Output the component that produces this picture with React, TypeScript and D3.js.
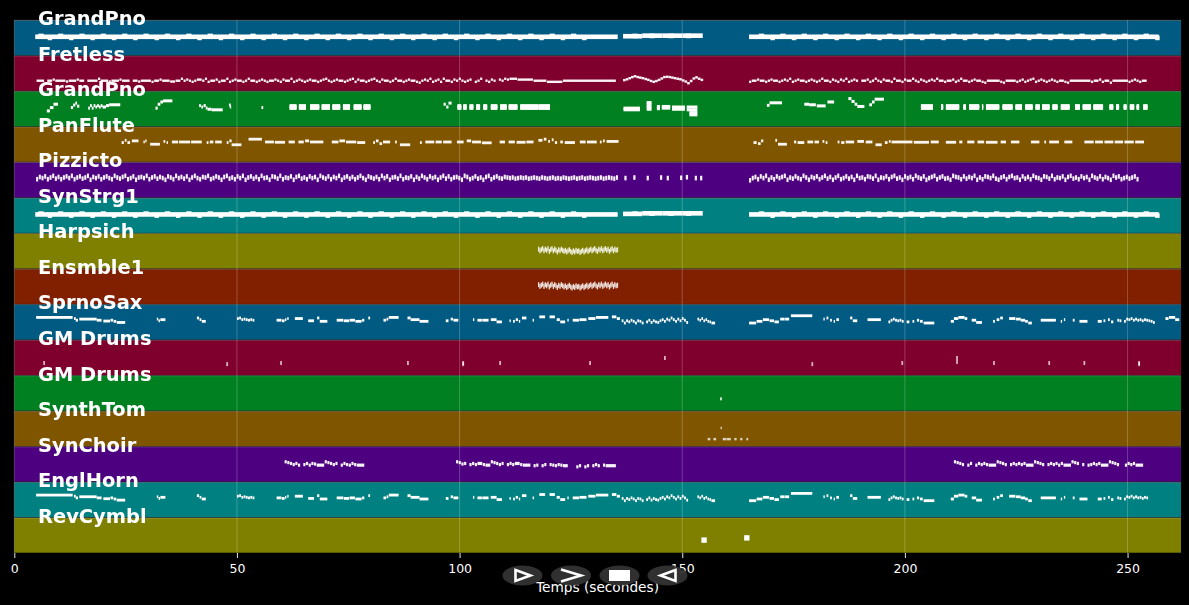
import React, { useLayoutEffect, useRef } from 'react';
import * as d3 from 'd3';

type Note = [number, number, number];

const width = 1189;
const height = 605;

const trackNames = [
  'GrandPno', 'Fretless', 'GrandPno', 'PanFlute', 'Pizzicto',
  'SynStrg1', 'Harpsich', 'Ensmble1', 'SprnoSax', 'GM Drums',
  'GM Drums', 'SynthTom', 'SynChoir', 'EnglHorn', 'RevCymbl',
];
const bandColors = ['#005a82', '#80002d', '#008020', '#805500', '#4d0080', '#008080', '#808000', '#802000'];
const xTicks = [0, 50, 100, 150, 200, 250];
const maxTime = 262;

// rests are written as 0, times are seconds, pitches are midi numbers
const phrase = (start: number, step: number, pitches: number[], merge = true, fill = 0.82): Note[] => {
  const notes: Note[] = [];
  pitches.forEach((p, i) => {
    if (!p) return;
    const t = start + i * step;
    const last = notes[notes.length - 1];
    if (merge && last && last[2] === p && Math.abs(last[1] - t - (1 - fill) * -step) < 0.001) {
      last[1] = t + step * fill;
    } else {
      notes.push([t, t + step * fill, p]);
    }
  });
  return notes;
};

// both piano-like parts (track 1 and track 6) share these
const pianoHeld: Note[] = [
  [4.7, 135.5, 67], [136.7, 141, 69], [141, 145.5, 71], [145.5, 150, 71], [150, 154.6, 71], [165, 257, 67],
];
const pianoDips = [
  8, 12.8, 17.6, 22.4, 27.2, 32, 36.8, 41.6, 46.4, 51.2, 56, 60.8, 65.6, 70.4, 75.2, 80, 84.8, 89.6,
  94.4, 99.2, 104, 108.8, 113.6, 118.4, 123.2, 128, 170.3, 175.1, 179.9, 184.7, 189.5, 194.3, 199.1,
  203.9, 208.7, 213.5, 218.3, 223.1, 227.9, 232.7, 237.5, 242.3, 247.1, 251.9, 256.7,
];
const pianoRipple = [
  139.4, 143.2, 147.5, 151.4, 6, 10.4, 15.2, 20, 24.8, 29.6, 34.4, 39.2, 44, 48.8, 53.6, 58.4, 63.2, 68,
  72.8, 77.6, 82.4, 87.2, 92, 96.8, 101.6, 106.4, 111.2, 116, 120.8, 125.6, 167.8, 172.6, 177.4, 182.2,
  187, 191.8, 196.6, 201.4, 206.2, 211, 215.8, 220.6, 225.4, 230.2, 235, 239.8, 244.6, 249.4, 254.2,
];

const fretlessFirst = [
  37, 37, 37, 0, 37, 37, 41, 37, 37, 37, 37, 34, 37, 37, 37, 41,
  37, 37, 0, 37, 37, 37, 37, 44, 37, 37, 37, 34, 37, 37, 37, 41,
  37, 37, 37, 0, 37, 37, 34, 37, 37, 37, 37, 33, 37, 37, 41, 37,
  37, 37, 34, 34, 37, 37, 44, 37, 41, 37, 33, 37, 41, 41, 37, 44,
  33, 37, 37, 41, 33, 37, 37, 44, 33, 37, 41, 37, 37, 33, 37, 44,
  37, 37, 33, 37, 41, 37, 33, 37, 37, 41, 37, 33, 41, 37, 37, 44,
  33, 37, 41, 37, 33, 37, 41, 37, 37, 33, 37, 41, 44, 37, 33, 37,
  41, 37, 37, 33, 37, 41, 44, 33, 41, 37, 37, 33, 37, 41, 44, 37,
  33, 41, 37, 37, 33, 37, 44, 37, 37, 33, 37, 41, 37, 37, 33, 30,
  37, 41, 37, 44, 33, 37, 41, 33, 44, 37, 37, 33, 41, 37, 44, 37,
  33, 37, 41, 0, 33, 37, 44, 0, 37, 33, 41, 37, 0, 41, 37, 44,
  41, 44, 44, 44, 41, 41, 41, 41, 41, 41, 37, 37, 37, 37, 37, 33,
  33, 33, 33, 33, 33, 37, 37, 37, 37, 37, 37, 37, 37, 37, 37, 37,
  37, 37, 37, 37, 37, 37, 37, 37, 37,
];
const fretlessSwell = [
  39, 42, 46, 50, 53, 50, 48, 46, 43, 40, 36, 33, 36, 40, 45, 50, 51, 50, 48, 46, 44, 42, 38, 34, 28, 36, 45, 49, 44, 40,
];
const fretlessLast = [
  33, 37, 37, 41, 37, 37, 33, 37, 41, 37, 37, 33, 37, 41, 37, 44,
  33, 37, 41, 37, 37, 33, 37, 41, 37, 33, 37, 44, 37, 37, 33, 41,
  37, 33, 41, 37, 44, 33, 37, 41, 37, 0, 37, 37, 41, 33, 37, 44,
  37, 33, 41, 37, 37, 33, 44, 37, 37, 33, 41, 37, 37, 44, 37, 33,
  41, 37, 33, 37, 41, 37, 44, 37, 37, 33, 37, 37, 41, 33, 37, 44,
  37, 37, 33, 37, 41, 37, 37, 33, 30, 37, 37, 37, 37, 37, 33, 30,
  37, 37, 37, 37, 33, 37, 41, 33, 37, 41, 44, 33, 37, 41, 37, 33,
  37, 41, 37, 33, 37, 37, 33, 30, 37, 37, 37, 37, 37, 37, 37, 37,
  33, 37, 37, 41, 33, 37, 37, 30, 37, 37, 37, 37, 37, 37, 33, 37,
  41, 37, 33, 37, 37,
];

const pianoRunsThin: Note[] = [
  [7.3, 8, 56], [8, 8.8, 68], [8.8, 9.8, 80],
  [12.7, 13.2, 68], [13.2, 13.7, 77], [13.7, 14.1, 84], [14.1, 14.6, 73],
  [16.6, 17, 66], [17, 17.4, 75], [17.4, 17.8, 66], [17.8, 18.2, 75], [18.2, 18.6, 70], [18.6, 19, 75],
  [19, 19.4, 70], [19.4, 19.8, 75], [19.8, 20.6, 70], [20.6, 21.3, 75], [21.3, 23.8, 78],
  [31.7, 32.2, 66], [32.2, 32.8, 80], [32.8, 33.4, 88], [33.4, 35.5, 92],
  [41.5, 41.9, 75], [42, 42.4, 70], [42.5, 43, 75], [43, 43.4, 66], [43.4, 44.3, 62], [44.3, 46.8, 60],
  [48.2, 48.6, 77], [48.4, 48.7, 70], [55.5, 55.9, 68],
  [96.4, 96.9, 80], [97, 97.5, 70], [97.5, 98.2, 84],
  [169, 169.6, 76], [169.6, 172.4, 85],
  [177.4, 178.5, 80], [178.5, 180, 78], [180.2, 182.2, 74], [182.6, 184.1, 88],
  [187.3, 188, 100], [188, 188.7, 90], [188.7, 189.3, 80], [189.3, 190.9, 72],
  [192, 192.6, 78], [192.6, 193.2, 88], [193.2, 195.3, 98],
];
const pianoBlocks: [number, number][] = [
  [61.8, 63.4], [63.9, 65.5], [66.4, 68.5], [69, 70.9], [71.4, 73.2], [73.8, 75.4], [76.2, 78], [78.4, 80],
  [99.5, 100.4], [100.8, 101.6], [102.2, 103.1], [103.7, 104.6], [105.3, 106.2], [107, 108.5], [109.1, 110.6],
  [111, 113], [113.6, 117.7], [117.7, 120.3],
  [203.6, 206.3], [208.1, 208.6], [209.2, 212.2], [213.1, 213.7], [214.4, 216.7], [217.3, 217.6], [218.2, 221.2],
  [221.9, 224.2], [224.8, 226.3], [227, 228.7], [229.3, 230.3], [230.8, 232.5], [233.1, 234.3], [235, 237],
  [238.2, 239.3], [239.9, 241.8], [242.3, 244.5], [245.9, 246.8], [247.4, 248.1], [249.1, 249.8], [250.5, 251.5],
  [252, 252.6], [253.5, 254.5],
];
const blockPitches = [65, 70, 75];
const pianoCluster: Note[] = [
  [136.8, 140.5, 66], [136.8, 140.5, 60],
  [142, 143.1, 86], [142, 143.1, 78], [142, 143.1, 70], [142, 143.1, 62],
  [144.3, 145, 72], [144.3, 145, 64],
  [145.4, 147.3, 72], [145.4, 147.3, 66],
  [147.7, 150.6, 70], [147.7, 150.6, 62],
  [151, 153.4, 70], [151, 153.4, 60], [151.6, 153.4, 50], [151.6, 153.4, 42],
];

const panFluteNotes: Note[] = [
  [24.1, 24.6, 70], [24.8, 25.2, 78], [25.4, 26, 70], [26.4, 27.9, 76], [29, 29.3, 72], [29.4, 29.7, 76],
  [30.5, 32.7, 64], [33.5, 33.9, 74], [34.2, 34.5, 70], [35.4, 36.8, 72], [37, 39.5, 72], [39.7, 42.1, 72],
  [43.2, 43.6, 70], [43.9, 44.7, 72], [45.1, 46.6, 72], [47.7, 48.1, 70], [48.3, 48.8, 76], [48.8, 51, 62],
  [52.6, 55.6, 82], [56.3, 58.3, 72], [58.5, 60.8, 71], [61.6, 63, 72], [63.8, 65, 72], [65.3, 66.2, 76],
  [66.4, 69.4, 72], [71.3, 72.8, 72], [73, 74.3, 76], [74.5, 76.8, 72], [77, 78.8, 70],
  [80.6, 81, 70], [81.2, 81.8, 76], [82, 82.6, 66], [82.8, 84.4, 72], [85.5, 85.9, 72],
  [86.6, 88.9, 62], [91.1, 91.5, 70], [92.3, 94.3, 72], [94.6, 96, 72], [96.3, 98.2, 72],
  [99.4, 100.9, 72], [101.6, 102.6, 76], [102.8, 104.8, 72], [105, 107.2, 69],
  [109, 110.2, 72], [111, 112.4, 72], [112.8, 114.8, 71], [115, 116.6, 72],
  [117.7, 118.6, 78], [118.9, 119.5, 82], [119.9, 120.3, 74], [120.7, 121.1, 80], [121.4, 121.9, 70],
  [122.6, 123.2, 72], [123.6, 125.9, 70], [127, 128.3, 72], [128.6, 130.8, 72], [131.5, 131.9, 72], [132.2, 132.6, 76],
  [133, 135.7, 74],
  [166, 166.7, 70], [167, 167.6, 66], [167.7, 168.2, 76], [170.9, 171.3, 78], [171.5, 173.5, 64],
  [175.1, 175.6, 72], [175.9, 177.4, 70], [178.1, 179.4, 72], [179.7, 180.7, 72], [181.5, 181.9, 74], [182.2, 182.6, 70],
  [184.9, 185.3, 72], [185.7, 186.4, 70], [186.7, 188.6, 72], [189.3, 190.8, 74], [191.2, 192.7, 72],
  [193.4, 194.8, 62], [195.5, 196.1, 70], [196.4, 196.8, 74], [197, 201.7, 72], [202, 205.4, 71], [205.8, 207.6, 72],
  [209.2, 211.5, 71], [212.2, 212.9, 72], [214, 215.6, 72], [216.3, 217.8, 72], [218.2, 220.8, 71], [221.5, 222.7, 72],
  [223.8, 225.7, 72], [228.3, 230.2, 72], [231.3, 231.7, 72], [232.4, 234.6, 72], [235.8, 237.6, 72],
  [240.3, 242.4, 72], [242.7, 244.5, 72], [244.8, 246.8, 72], [247.1, 249, 72], [249.3, 251.4, 72], [251.7, 253.7, 72],
];

const pizzFirst = [
  66, 74, 70, 76, 66, 72, 78, 68, 74, 66, 72, 76, 70, 78, 66, 72,
  76, 68, 72, 78, 64, 74, 70, 76, 66, 72, 76, 70, 66, 78, 72, 68,
  74, 78, 66, 70, 76, 64, 72, 74, 70, 78, 66, 72, 76, 68, 74, 70,
  64, 76, 72, 66, 78, 70, 74, 68, 76, 64, 72, 78, 70, 66, 74, 72,
  78, 66, 70, 76, 72, 64, 74, 78, 68, 72, 66, 76, 70, 78, 64, 72,
  76, 68, 74, 66, 78, 70, 72, 64, 76, 74, 68, 78, 66, 72, 70, 76,
  64, 74, 78, 68, 72, 66, 76, 70, 74, 64, 78, 72, 68, 76, 66, 74,
  70, 78, 64, 72, 76, 68, 74, 66, 72, 78, 70, 64, 76, 72, 68, 74,
  66, 78, 70, 76, 64, 72, 74, 68, 78, 66, 72, 70, 76, 64, 74, 68,
  78, 72, 66, 76, 70, 74, 64, 72, 78, 68, 76, 66, 72, 74, 70, 64,
  78, 74, 66, 70, 76, 68, 72, 64, 74, 78, 66, 72, 76, 70, 68, 74,
  72, 70, 72, 68, 70, 72, 70, 72, 68, 70, 72, 70, 68, 72, 70, 68,
  70, 72, 68, 70, 68, 72, 70, 68, 70, 72, 68, 70, 72, 68, 70, 72,
  70, 68, 70, 72, 68, 70, 72, 70, 68, 72,
];
const pizzTicks: Note[] = [
  [137, 137.5, 70], [139, 139.5, 72], [142, 142.5, 70], [145, 145.5, 72], [146.5, 147, 70], [149.5, 150, 71],
  [150.8, 151.3, 73], [152.8, 153.3, 70], [154, 154.5, 70],
];
const pizzLast = [
  62, 70, 74, 66, 76, 70, 78, 64, 72, 66, 76, 70, 74, 78, 64, 72,
  68, 76, 70, 66, 78, 72, 64, 74, 70, 76, 66, 72, 78, 68, 74, 64,
  72, 78, 66, 70, 76, 68, 74, 64, 78, 70, 72, 66, 76, 74, 68, 78,
  64, 72, 70, 76, 66, 74, 78, 68, 72, 64, 76, 70, 74, 66, 78, 72,
  68, 76, 64, 70, 74, 78, 66, 72, 76, 68, 70, 64, 78, 74, 72, 66,
  76, 68, 74, 70, 78, 64, 72, 66, 76, 74, 70, 78, 68, 64, 72, 76,
  66, 74, 78, 70, 72, 64, 76, 68, 74, 66, 78, 72, 70, 64, 76, 74,
  68, 78, 66, 72, 70, 76, 64, 74, 78, 68, 72, 66, 76, 70, 74, 64,
  78, 72, 68, 76, 66, 74, 70, 64, 78, 72, 76, 66, 70, 74, 68, 72,
  76, 66,
];

// Harpsich and Ensmble1 double each other
const ensemblePitches = [
  70, 64, 68, 72, 64, 70, 66, 72, 62, 68, 72, 64, 70, 66, 60, 68, 64, 70, 66, 62,
  66, 60, 64, 68, 62, 58, 64, 60, 66, 62, 64, 58, 62, 66, 60, 64, 68, 62, 66, 70,
  64, 68, 72, 66, 62, 70, 66, 72, 64, 68, 72, 66, 70, 62, 68, 72, 64, 70, 66, 68,
];

// SprnoSax and EnglHorn double each other up to the last few seconds
const melodyNotes: Note[] = [
  [4.9, 13.1, 80], [13.4, 13.8, 76], [13.8, 14.3, 70], [14.6, 18.5, 74], [18.5, 19.6, 70], [20, 21.5, 67],
  [21.6, 22.2, 70], [22.3, 22.9, 66], [23, 24.9, 62],
  ...phrase(32, 0.4, [74, 68, 72, 72, 72]), [41, 41.5, 78], [41.6, 42, 72], [42.1, 43, 66],
  ...phrase(50, 0.5, [76, 78, 72, 74, 72, 70, 72, 70]), [58.9, 60, 70], [60.1, 60.7, 68], [60.8, 61.1, 72], [61.3, 61.6, 76],
  [63, 64.8, 76], [66, 67.3, 68], [68, 68.5, 78], [68.6, 70.3, 66],
  [72.4, 73.9, 70], [74, 75.2, 68], [75.3, 76.5, 70], [76.6, 78, 66], [78.1, 78.6, 70], [79.5, 79.9, 78],
  [82.9, 83.5, 70], [83.6, 84, 74], [84.1, 86.3, 80],
  [88.3, 89, 78], [89, 91, 72], [91, 93, 66],
  [96.9, 97.5, 68], [98, 98.5, 74], [98.6, 99.7, 70],
  [103, 103.3, 72], [104, 105, 70], [105.1, 106.5, 70], [107, 108.3, 72], [108.3, 109.5, 64],
  [111.2, 111.5, 68], [112, 112.4, 66], [112.6, 113.1, 72], [113.3, 113.6, 66], [114, 115, 78], [116.4, 116.7, 70],
  [117.9, 119.2, 82], [120.2, 121.4, 82], [121.8, 122.5, 72], [122.6, 123.7, 64], [124.2, 124.5, 70],
  [125.4, 126.8, 70], [126.9, 128.5, 72], [128.9, 130.5, 76], [130.6, 133.4, 80], [134.2, 135.2, 82], [135.3, 136, 76],
  ...phrase(136.4, 0.5, [68, 60, 68, 64, 70, 66, 60, 68, 66, 60, 0, 64, 70, 62, 68, 64, 62, 68, 72, 66, 74, 70, 78, 72, 66, 74, 68, 76, 70, 62]),
  ...phrase(153.4, 0.45, [74, 70, 76, 68, 72, 66, 64, 60, 60]),
  [165, 166.6, 60], [166.7, 168, 66], [168.1, 169.5, 72], [169.6, 170.6, 68], [170.7, 171.7, 64],
  [172, 173, 74], [173.1, 174, 74], [174.4, 179.2, 86],
  [181.7, 182, 74], [182.4, 182.8, 78], [183.2, 183.6, 70], [184, 184.3, 66], [184.6, 185.2, 72],
  [187.7, 188.2, 78], [188.3, 189.3, 68], [191.6, 194.6, 72],
  ...phrase(196.3, 0.5, [64, 70, 74, 70, 68, 70, 66, 0]), [200.4, 201, 64], [201.7, 202.1, 66], [202.7, 203.2, 70], [203.4, 204, 66], [204.2, 206.6, 60],
  [210.3, 211, 66], [211, 212, 76], [212, 213.4, 80], [213.4, 214, 76], [215, 216, 70], [216, 217.3, 62],
  [219.8, 220.2, 66], [220.6, 221.2, 72], [221.4, 222, 78], [223.4, 224.8, 76], [224.9, 226, 74], [226, 227, 70],
  [227, 227.6, 66], [227.7, 228.5, 60], [230.5, 233.9, 70], [235, 235.3, 66], [235.7, 236, 72], [237.7, 238.1, 70],
  [239.2, 241, 66], [243.3, 244.2, 66], [244.6, 245, 68], [245.6, 246, 72], [246.3, 246.8, 64],
  ...phrase(247.7, 0.5, [70, 68, 0, 66, 74, 72, 76, 70, 74, 70, 72, 68, 72, 70, 68, 66, 62]),
  [258.5, 259.2, 76], [259.3, 260.7, 80], [260.7, 261.6, 72],
];

const drumHits: Note[] = [
  [6.5, 6.9, 44], [47.6, 48, 40], [59.7, 60.1, 44], [88.2, 88.6, 44], [100.6, 101, 44], [100.6, 101, 40],
  [108.9, 109.3, 44], [129.1, 129.5, 44], [145.9, 146.3, 62], [179, 179.4, 40], [199.2, 199.6, 44],
  [211.5, 211.9, 62], [211.5, 211.9, 48], [219.8, 220.2, 44], [232.2, 232.6, 44],
  [240.1, 240.5, 44], [252.4, 252.8, 44], [252.4, 252.8, 40],
];
const drumsSecond: Note[] = [[158.5, 158.9, 43]];
const synthTomNotes: Note[] = [
  [158.6, 158.9, 66], [155.7, 156.3, 26], [157, 157.6, 26], [159.1, 159.9, 26], [160, 160.9, 26],
  [161.7, 162.2, 26], [163, 163.5, 26], [164.4, 164.8, 26],
];
const choirFirst = [
  72, 69, 66, 62, 66, 60, 0, 62, 66, 60, 66, 64, 60, 60, 60, 72, 69, 66, 62, 66, 0, 60, 66, 62, 60, 66, 62, 60, 60, 60,
];
const choirSecond = [
  72, 69, 64, 66, 0, 62, 66, 62, 66, 66, 62, 60, 60, 72, 69, 66, 62, 66, 0, 62, 66, 62, 66, 66, 62, 60, 60, 60,
  0, 58, 60, 0, 58, 62, 0, 62, 60, 58, 62, 60, 58, 58, 0, 0, 0, 54, 58, 0, 54, 58, 0, 58, 62, 58, 0, 60, 58, 58, 58, 58,
];
const choirLast = [
  72, 69, 66, 62, 0, 60, 66, 0, 60, 66, 62, 66, 62, 60, 60, 60, 72, 69, 66, 62, 0, 62, 66, 62, 66, 62, 66, 60, 60, 60,
  72, 69, 66, 62, 0, 62, 66, 62, 66, 60, 66, 60, 60, 60, 72, 69, 66, 0, 62, 0, 60, 62, 66, 62, 66, 60, 60, 60,
  72, 69, 66, 62, 0, 0, 60, 66, 62, 66, 60, 60, 60,
];
const cymbalHits: Note[] = [[154.3, 155.5, 46], [163.9, 165.1, 54]];

const pianoTrack: Note[] = [
  ...pianoHeld,
  ...pianoDips.map((t): Note => [t - 0.5, t + 0.5, 63]),
  ...pianoRipple.map((t): Note => [t - 0.6, t + 0.6, 70]),
];
const fretlessTrack: Note[] = [
  ...phrase(5, 0.6, fretlessFirst),
  ...phrase(136.7, 0.6, fretlessSwell, true, 1),
  ...phrase(165, 0.6, fretlessLast),
];
const secondPianoTrack: Note[] = [
  ...pianoRunsThin,
  ...pianoCluster,
  ...pianoBlocks.flatMap(([a, b]) => blockPitches.map((p): Note => [a, b, p])),
];
const pizzTrack: Note[] = [
  ...phrase(4.9, 0.6, pizzFirst, false, 0.78),
  ...pizzTicks,
  ...phrase(165, 0.6, pizzLast, false, 0.78),
];
const ensembleTrack = phrase(117.6, 0.3, ensemblePitches, false, 1);
const choirTrack: Note[] = [
  ...phrase(60.7, 0.6, choirFirst),
  ...phrase(99.2, 0.6, choirSecond),
  ...phrase(211, 0.6, choirLast),
];

const trackNotes: Note[][] = [
  pianoTrack, fretlessTrack, secondPianoTrack, panFluteNotes, pizzTrack,
  pianoTrack, ensembleTrack, ensembleTrack, melodyNotes, drumHits,
  drumsSecond, synthTomNotes, choirTrack, melodyNotes.filter((n) => n[0] < 254.5), cymbalHits,
];
const noteSizes = [4.6, 2.4, 3, 2.8, 4.6, 4.6, 5, 5, 2.8, 4, 3, 2.4, 3.2, 2.8, 5.4];
const noteAlphas = [1, 0.95, 1, 0.95, 0.95, 1, 0.85, 0.85, 1, 0.7, 0.85, 0.75, 0.95, 1, 1];

const controlShapes = [
  'M-7,-5.5 L8,0 L-7,5.5 Z',
  'M-10,-6 L10,0 L-10,6',
  '',
  'M8,-5.5 L-7,0 L8,5.5 Z',
];
const controlCentres = [522.5, 571, 619.5, 667.5];

const draw = (container: SVGSVGElement) => {
  const svg = d3.select(container);
  svg.selectAll('*').remove();
  svg.append('rect').attr('width', width).attr('height', height).attr('fill', '#000');

  // the reference is a little soft, notes get a very slight blur
  svg
    .append('defs')
    .append('filter')
    .attr('id', 'soft')
    .attr('filterUnits', 'userSpaceOnUse')
    .attr('x', 0)
    .attr('y', 0)
    .attr('width', width)
    .attr('height', height)
    .append('feGaussianBlur')
    .attr('stdDeviation', 0.35);

  const xScale = d3.scaleLinear().domain([0, maxTime]).range([14.3, 1181]);
  const band = d3
    .scaleBand<number>()
    .domain(d3.range(trackNames.length))
    .range([20, 553]);
  const pitchScale = d3.scaleLinear().domain([0, 127]).range([band.bandwidth(), 0]);

  const bands = svg.append('g').classed('bands', true);
  bands
    .selectAll('rect')
    .data(trackNames)
    .join('rect')
    .attr('x', xScale(0))
    .attr('y', (_, i) => band(i)! + 0.5)
    .attr('width', xScale(maxTime) - xScale(0))
    .attr('height', band.bandwidth() - 0.8)
    .attr('fill', (_, i) => bandColors[i % bandColors.length]);
  bands
    .selectAll('line')
    .data(trackNames)
    .join('line')
    .attr('x1', xScale(0))
    .attr('x2', xScale(maxTime))
    .attr('y1', (_, i) => band(i)! + 0.35)
    .attr('y2', (_, i) => band(i)! + 0.35)
    .attr('stroke', '#fff')
    .attr('stroke-opacity', 0.4)
    .attr('stroke-width', 0.7);

  const grid = svg.append('g').classed('grid', true);
  grid
    .selectAll('line')
    .data(xTicks)
    .join('line')
    .attr('x1', (d) => xScale(d))
    .attr('x2', (d) => xScale(d))
    .attr('y1', 20)
    .attr('y2', 553)
    .attr('stroke', '#fff')
    .attr('stroke-opacity', 0.28)
    .attr('stroke-width', 0.8);

  const tracks = svg.append('g').classed('tracks', true).attr('filter', 'url(#soft)');
  trackNotes.forEach((notes, i) => {
    const size = noteSizes[i];
    tracks
      .append('g')
      .classed('track', true)
      .attr('transform', `translate(0,${band(i)})`)
      .selectAll('rect')
      .data(notes)
      .join('rect')
      .attr('x', (d) => xScale(d[0]))
      .attr('width', (d) => xScale(d[1]) - xScale(d[0]))
      .attr('y', (d) => pitchScale(d[2]) - size / 2)
      .attr('height', size)
      .attr('fill', '#fff')
      .attr('fill-opacity', noteAlphas[i]);
  });

  svg
    .append('g')
    .classed('labels', true)
    .selectAll('text')
    .data(trackNames)
    .join('text')
    .attr('x', 38)
    .attr('y', (_, i) => band(i)! + 5.2)
    .attr('fill', '#fff')
    .attr('font-family', 'DejaVu Sans')
    .attr('font-weight', 'bold')
    .attr('font-size', 19.44)
    .text((d) => d);

  const axis = svg
    .append('g')
    .classed('x-axis', true)
    .attr('transform', 'translate(0,553)')
    .call(d3.axisBottom(xScale).tickValues(xTicks).tickSize(5).tickPadding(6).tickFormat(d3.format('d')));
  axis.select('.domain').remove();
  axis.selectAll('line').attr('stroke', '#fff').attr('stroke-width', 0.9);
  axis
    .selectAll('text')
    .attr('fill', '#fff')
    .attr('font-family', 'DejaVu Sans')
    .attr('font-size', 12.5);

  svg
    .append('text')
    .attr('x', 597.5)
    .attr('y', 592)
    .attr('text-anchor', 'middle')
    .attr('fill', '#fff')
    .attr('font-family', 'DejaVu Sans')
    .attr('font-size', 13.7)
    .text('Temps (secondes)');

  const controls = svg
    .append('g')
    .classed('controls', true)
    .selectAll('g')
    .data(controlShapes)
    .join('g')
    .attr('transform', (_, i) => `translate(${controlCentres[i]},575.5)`);
  controls.append('ellipse').attr('rx', 20).attr('ry', 10).attr('fill', '#333').attr('fill-opacity', 0.95);
  controls
    .filter((d) => d !== '')
    .append('path')
    .attr('d', (d) => d)
    .attr('fill', 'none')
    .attr('stroke', '#fff')
    .attr('stroke-width', 2.6);
  controls
    .filter((d) => d === '')
    .append('rect')
    .attr('x', -10.5)
    .attr('y', -5.5)
    .attr('width', 21)
    .attr('height', 11)
    .attr('fill', '#fff');
};

export default function App() {
  const rootEl = useRef<SVGSVGElement>(null);

  useLayoutEffect(() => {
    if (rootEl.current) draw(rootEl.current);
  }, []);

  return (
    <svg
      ref={rootEl}
      width={width}
      height={height}
      style={{ position: 'absolute', top: 0, left: 0, display: 'block' }}
    />
  );
}
